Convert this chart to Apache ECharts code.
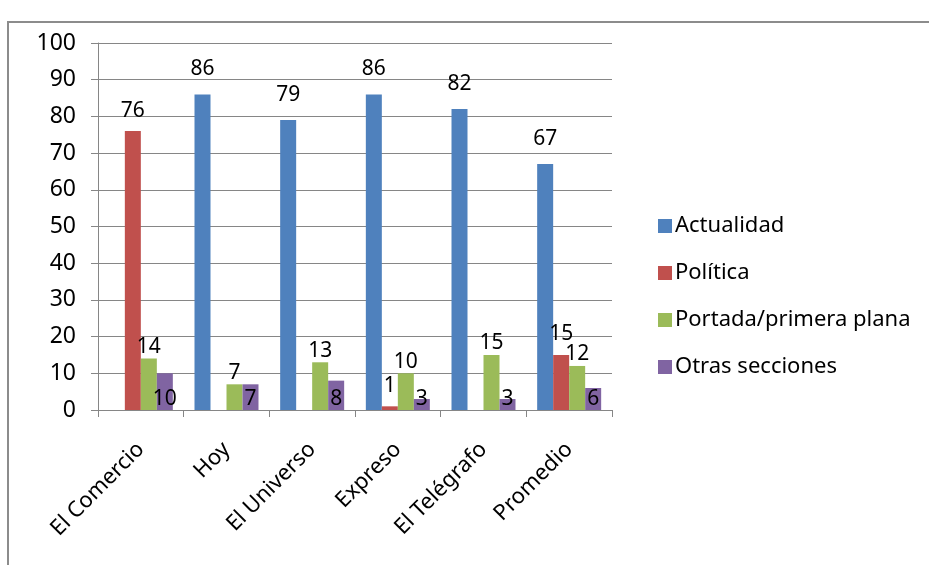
<!DOCTYPE html>
<html><head><meta charset="utf-8">
<script src="https://cdn.jsdelivr.net/npm/echarts@6/dist/echarts.min.js"></script>
<style>
html,body{margin:0;padding:0;background:#fff;overflow:hidden}
#frame{position:absolute;left:7px;top:21px;width:1000px;height:700px;border:2px solid #8c8c8c;box-sizing:border-box}
#main{position:absolute;left:0;top:0;width:929px;height:565px}
</style></head>
<body>
<div id="frame"></div>
<div id="main"></div>
<script>
const categories = ['El Comercio','Hoy','El Universo','Expreso','El Telégrafo','Promedio'];
const seriesNames = ['Actualidad','Política','Portada/primera plana','Otras secciones'];
const actualidad = [0, 86, 79, 86, 82, 67];
const politica = [76, 0, 0, 1, 0, 15];
const portada = [14, 7, 13, 10, 15, 12];
const otras = [10, 7, 8, 3, 3, 6];
const yTicks = [0,10,20,30,40,50,60,70,80,90,100];

const colors = ['#4F81BD','#C0504D','#9BBB59','#8064A2'];
const font = 'Noto Sans';
const chart = echarts.init(document.getElementById('main'));
const lbl = (pos, dist) => ({
  show: true, position: pos, distance: dist, color: '#000', fontFamily: font, fontSize: 21,
  formatter: p => p.value === 0 ? '' : String(p.value)
});
const allData = [actualidad, politica, portada, otras];
const labels = [lbl('top', 15), lbl('top', 10), lbl('top', 1), lbl('insideBottom', 0)];
chart.setOption({
  animation: false,
  color: colors,
  grid: {left: 98, right: 317, top: 43, bottom: 155},
  legend: {
    orient: 'vertical', left: 653, top: 210, itemWidth: 14, itemHeight: 14, itemGap: 25,
    icon: 'rect',
    textStyle: {fontFamily: font, fontSize: 22, color: '#000', padding: [0,0,0,-2]},
    data: seriesNames
  },
  xAxis: {
    type: 'category', data: categories,
    axisLine: {lineStyle: {color: '#868686', width: 1}},
    axisTick: {show: true, length: 7, lineStyle: {color: '#868686'}},
    axisLabel: {rotate: 45, color: '#000', fontFamily: font, fontSize: 22, margin: 36}
  },
  yAxis: {
    type: 'value', min: 0, max: 100, interval: 10,
    axisLine: {show: true, lineStyle: {color: '#868686'}},
    axisTick: {show: true, length: 7, lineStyle: {color: '#868686'}},
    splitLine: {lineStyle: {color: '#868686', width: 1}},
    axisLabel: {color: '#000', fontFamily: font, fontSize: 23, margin: 22,
      formatter: v => yTicks.includes(v) ? String(v) : ''}
  },
  series: seriesNames.map((n, i) => ({
    name: n, type: 'bar', data: allData[i], barWidth: 16, barGap: '0%',
    label: labels[i]
  }))
});
</script>
</body></html>
